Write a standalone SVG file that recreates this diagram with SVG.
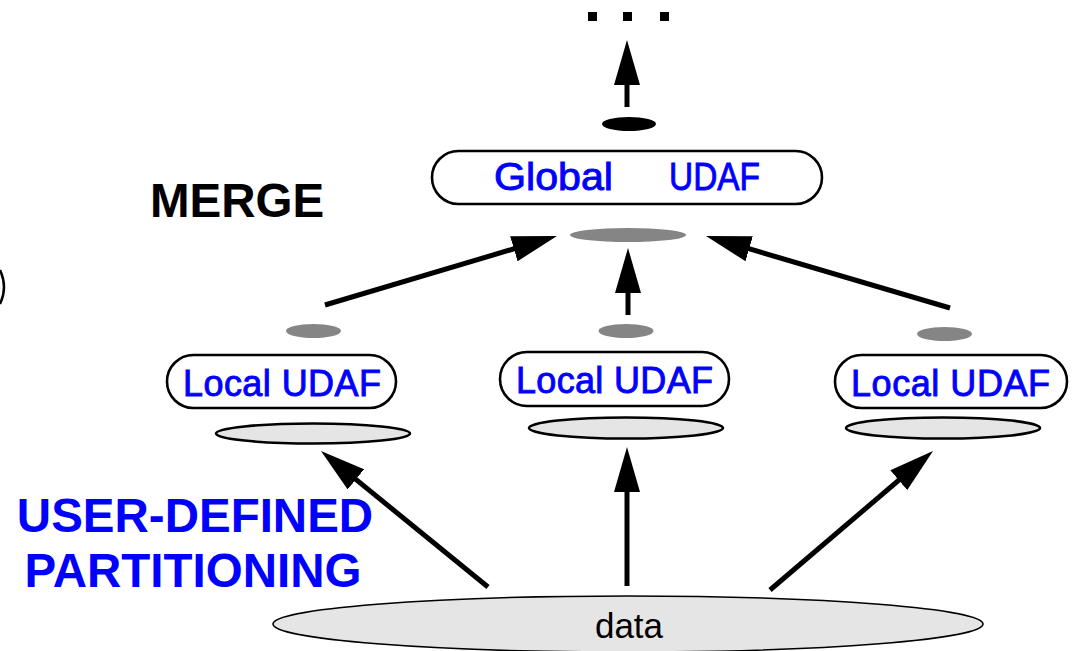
<svg xmlns="http://www.w3.org/2000/svg" width="1072" height="651" viewBox="0 0 1072 651">
  <style>
    .box { fill: #ffffff; stroke: #000000; stroke-width: 2.6; }
    .plate { fill: #e5e5e5; stroke: #000000; stroke-width: 2.6; }
    .token { fill: #858585; stroke: none; }
    .label { font-family: "Liberation Sans", Arial, sans-serif; fill: #0000ff; stroke: #0000ff; stroke-width: 0.9; font-size: 36px; }
    .label.big { font-size: 38px; }
    .heading { font-family: "Liberation Sans", Arial, sans-serif; font-weight: bold; font-size: 47.5px; }
    .edge { stroke: #000000; stroke-width: 5; fill: none; marker-end: url(#head); }
  </style>
  <defs>
    <marker id="head" markerUnits="userSpaceOnUse" markerWidth="46" markerHeight="26" refX="25" refY="13" orient="auto">
      <path d="M0,0 L45,13 L0,26 z" fill="#000000"/>
    </marker>
  </defs>

  <rect width="1072" height="651" fill="#ffffff"/>

  <!-- partial shape at the left margin -->
  <path d="M0,270 A40,40 0 0 1 0,304" fill="none" stroke="#000000" stroke-width="2.5"/>

  <!-- continuation dots -->
  <g id="more">
    <rect x="588" y="12" width="9" height="9" fill="#000000"/>
    <rect x="623" y="12" width="9" height="9" fill="#000000"/>
    <rect x="660" y="12" width="9" height="9" fill="#000000"/>
  </g>

  <!-- section headings -->
  <text class="heading" x="150" y="217" fill="#000000">MERGE</text>
  <g class="heading" fill="#0000ff" text-anchor="middle">
    <text x="195" y="532">USER-DEFINED</text>
    <text x="193" y="587">PARTITIONING</text>
  </g>

  <!-- global aggregation -->
  <g id="global-out">
    <ellipse cx="629" cy="124" rx="27" ry="7" fill="#000000"/>
  </g>
  <g id="global-udaf">
    <rect class="box" x="432" y="151" width="390" height="53" rx="26.5"/>
    <text class="label big" x="494" y="190" textLength="119" lengthAdjust="spacingAndGlyphs">Global</text>
    <text class="label big" x="669" y="190" textLength="91" lengthAdjust="spacingAndGlyphs">UDAF</text>
  </g>
  <g id="global-in">
    <ellipse class="token" cx="628" cy="235" rx="58" ry="7"/>
  </g>

  <!-- local aggregations -->
  <g id="local-1">
    <ellipse class="token" cx="313.5" cy="331" rx="27.5" ry="7"/>
    <rect class="box" x="167" y="355" width="229" height="53" rx="26.5"/>
    <text class="label" x="183" y="396" textLength="198" lengthAdjust="spacing">Local UDAF</text>
    <ellipse class="plate" cx="313" cy="433.5" rx="97" ry="10"/>
  </g>
  <g id="local-2">
    <ellipse class="token" cx="626" cy="331" rx="27.5" ry="7"/>
    <rect class="box" x="500" y="352" width="229" height="54" rx="27"/>
    <text class="label" x="516" y="393" textLength="197" lengthAdjust="spacing">Local UDAF</text>
    <ellipse class="plate" cx="626" cy="428" rx="97" ry="10.5"/>
  </g>
  <g id="local-3">
    <ellipse class="token" cx="944.5" cy="334" rx="27.5" ry="7"/>
    <rect class="box" x="835" y="355" width="232" height="53" rx="26.5"/>
    <text class="label" x="851" y="396" textLength="199" lengthAdjust="spacing">Local UDAF</text>
    <ellipse class="plate" cx="943" cy="428" rx="97" ry="10.5"/>
  </g>

  <!-- input data -->
  <g id="data">
    <ellipse cx="628" cy="624" rx="355" ry="28" fill="#e5e5e5" stroke="#000000" stroke-width="1.6"/>
    <text x="629" y="638" font-family="Liberation Sans, Arial, sans-serif" font-size="35" text-anchor="middle" fill="#000000">data</text>
  </g>

  <!-- connectors -->
  <g id="connectors">
    <line class="edge" x1="627" y1="107" x2="627" y2="60"/>
    <line class="edge" x1="325" y1="305" x2="537.8" y2="241.7"/>
    <line class="edge" x1="628" y1="315" x2="628" y2="268"/>
    <line class="edge" x1="950" y1="308" x2="725.2" y2="241.7"/>
    <line class="edge" x1="488" y1="587" x2="336.5" y2="463.6"/>
    <line class="edge" x1="627" y1="586" x2="627" y2="467"/>
    <line class="edge" x1="770" y1="590" x2="917.8" y2="464"/>
  </g>
</svg>
